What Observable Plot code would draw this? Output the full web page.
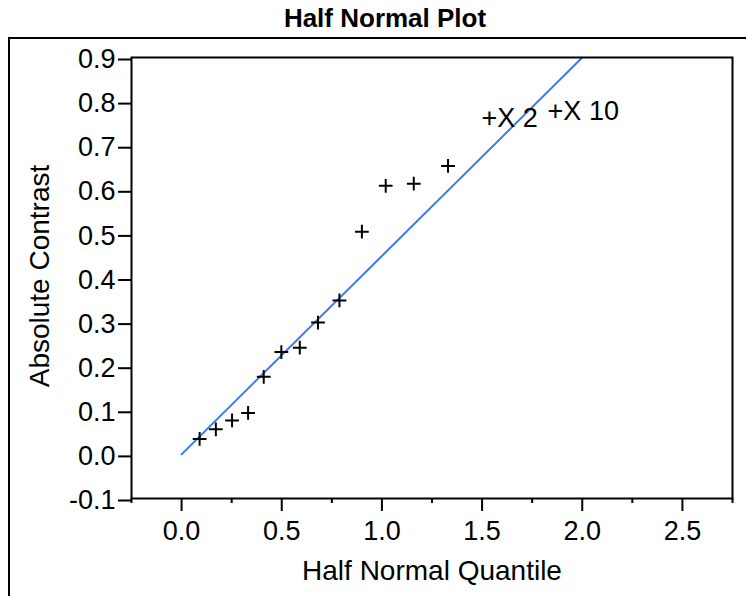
<!DOCTYPE html>
<html>
<head>
<meta charset="utf-8">
<script src="https://cdn.jsdelivr.net/npm/d3@7"></script>
<script src="https://cdn.jsdelivr.net/npm/@observablehq/plot@0.6"></script>
<style>
  html, body { margin: 0; padding: 0; background: #fff; }
  #wrap { position: relative; width: 746px; height: 596px; overflow: hidden; font-family: "Liberation Sans", Arial, sans-serif; }
  #title { position: absolute; left: 0; width: 770px; top: 3px; text-align: center; font-weight: bold; font-size: 26px; line-height: 30px; color: #000; }
  #box { position: absolute; left: 8px; top: 37px; width: 800px; height: 700px; border-left: 2px solid #000; border-top: 2px solid #000; }
  #chart { position: absolute; left: 0; top: 38px; }
  #chart svg g[aria-label="y-axis tick label"], #chart svg g[aria-label="x-axis tick label"] { font-size: 27px; }
  .ylab { position: absolute; left: 40px; top: 276px; transform: translate(-50%, -50%) rotate(-90deg); font-size: 28px; white-space: nowrap; }
  .xlab { position: absolute; left: 432px; top: 571px; transform: translate(-50%, -50%); font-size: 28px; white-space: nowrap; }
</style>
</head>
<body>
<div id="wrap">
  <div id="title">Half Normal Plot</div>
  <div id="box"></div>
  <div id="chart"></div>
  <div class="ylab">Absolute Contrast</div>
  <div class="xlab">Half Normal Quantile</div>
</div>
<script>
// Half normal quantile (x) and absolute contrast (y)
const quantile = [0.09, 0.171, 0.252, 0.332, 0.41, 0.498, 0.59, 0.681, 0.788, 0.90, 1.019, 1.159, 1.33, 1.537, 1.867];
const contrast = [0.035, 0.057, 0.077, 0.094, 0.176, 0.232, 0.242, 0.299, 0.349, 0.505, 0.609, 0.614, 0.654, 0.765, 0.781];
const labels   = ["", "", "", "", "", "", "", "", "", "", "", "", "", "X 2", "X 10"];
// reference line
const lineX = [0, 2.0];
const lineY = [0, 0.9];
// ticks
const yTicks = [-0.1, 0, 0.1, 0.2, 0.3, 0.4, 0.5, 0.6, 0.7, 0.8, 0.9];
const xMajor = [0, 0.5, 1.0, 1.5, 2.0, 2.5];
const xMinor = [-0.25, 0.25, 0.75, 1.25, 1.75, 2.25, 2.75];

const pts = quantile.map((q, i) => ({x: q, y: contrast[i], label: labels[i]}));
const plain = pts.filter(d => d.label === "");
const named = pts.filter(d => d.label !== "");
const refLine = lineX.map((x, i) => ({x, y: lineY[i]}));

const chart = Plot.plot({
  width: 746,
  height: 558,
  marginLeft: 131,
  marginRight: 14,
  marginTop: 19,
  marginBottom: 98,
  style: {fontFamily: "'Liberation Sans', Arial, sans-serif", fontSize: "27px", color: "#000", background: "transparent", overflow: "visible"},
  x: {domain: [-0.25, 2.75]},
  y: {domain: [-0.1, 0.9]},
  marks: [
    Plot.line(refLine, {x: "x", y: "y", stroke: "#3a7be8", strokeWidth: 2}),
    Plot.dot(plain, {x: "x", y: "y", symbol: "plus", r: 4.5, stroke: "#000", strokeWidth: 2}),
    Plot.text(named, {x: "x", y: "y", text: d => "+" + d.label, textAnchor: "start", dx: -8, dy: 1, fontSize: 27, fill: "#000"}),
    Plot.axisY(yTicks, {tickSize: 13, tickPadding: 3, dy: 2, strokeWidth: 2, tickFormat: d => d.toFixed(1), label: null}),
    Plot.axisX(xMajor, {tickSize: 13, tickPadding: 9, strokeWidth: 2, tickFormat: d => d.toFixed(1), label: null}),
    Plot.axisX(xMinor, {tickSize: 5, strokeWidth: 2, tickFormat: () => "", label: null}),
    Plot.frame({stroke: "#000", strokeWidth: 2})
  ]
});
document.getElementById("chart").appendChild(chart);
</script>
</body>
</html>
